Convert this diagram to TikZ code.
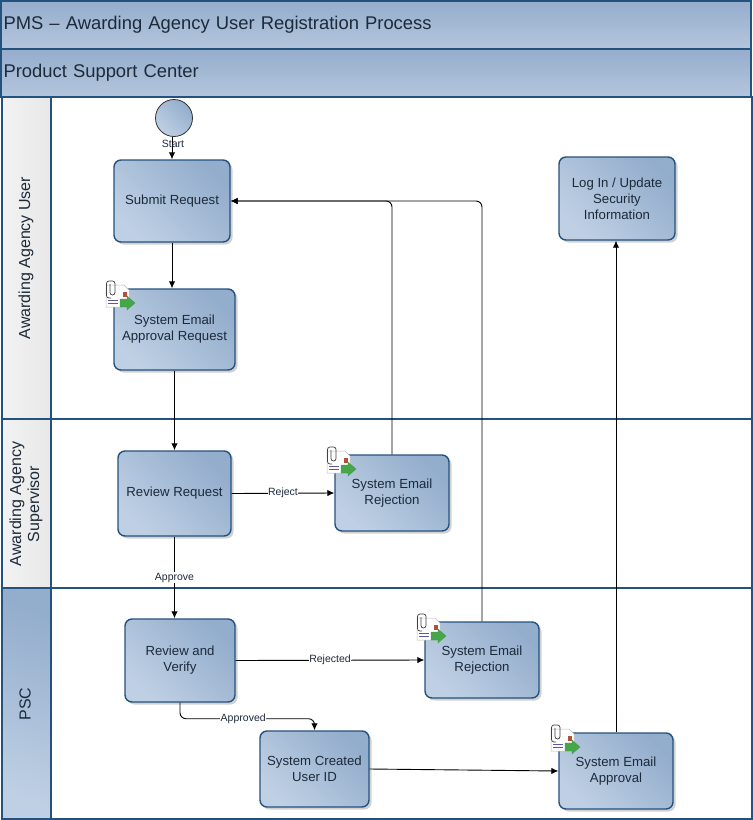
\documentclass[tikz,border=0pt]{standalone}
\usepackage{fontspec}
\setmainfont{Liberation Sans}
\usetikzlibrary{shadows,arrows.meta}
\definecolor{framecol}{HTML}{24527F}
\definecolor{boxlight}{HTML}{BFD0E4}
\definecolor{boxdark}{HTML}{93ADCC}
\definecolor{bandlight}{HTML}{B4C6DC}
\definecolor{banddark}{HTML}{94AECC}
\definecolor{inkcol}{HTML}{1C2A3A}
\definecolor{mailgreen}{HTML}{46A64A}
\definecolor{mailred}{HTML}{B4503A}

\begin{document}
\begin{tikzpicture}[
  x=1pt,y=-1pt,
  band/.style={draw=framecol,line width=1.6pt,outer sep=0pt,anchor=north west,top color=banddark,bottom color=bandlight,minimum height=48pt,text width=745pt,inner sep=2.5pt,align=left,font=\fontsize{18.4}{20}\selectfont,text=inkcol},
  lanebody/.style={draw=framecol,line width=1.6pt,outer sep=0pt,fill=white,anchor=north west,minimum width=701pt,inner sep=0pt},
  lanehead/.style={draw=framecol,line width=1.6pt,outer sep=0pt,anchor=north west,minimum width=49pt,inner sep=0pt,left color=white!90!gray,right color=white!82!gray},
  lanepsc/.style={lanehead,left color=boxlight,right color=boxdark,shading angle=160},
  lanetext/.style={rotate=90,align=center,font=\fontsize{16}{18}\selectfont,text=inkcol},
  procbox/.style={draw=framecol,line width=1.4pt,rounded corners=7pt,align=center,inner sep=0pt,font=\fontsize{13.2}{16}\selectfont,text=inkcol,drop shadow={shadow xshift=2.5pt,shadow yshift=-2.5pt,fill=gray!45,opacity=0.8},left color=boxlight,right color=boxdark,shading angle=135},
  startev/.style={circle,draw=black!80,line width=0.8pt,minimum size=37pt,inner sep=0pt,left color=boxlight,right color=boxdark,shading angle=135},
  flow/.style={draw=black,line width=0.9pt,-{Latex[length=7pt,width=6.5pt]}},
  flowbend/.style={flow,rounded corners=6pt},
  flowtext/.style={font=\fontsize{10.5}{12}\selectfont,text=inkcol,inner sep=0.5pt},
  mailicon/.pic={
    \fill[white,draw=gray!55,line width=0.5pt] (0,0) -- (18,0) -- (23,5) -- (23,22) -- (0,22) -- cycle;
    \fill[mailred] (17,7) rectangle (21,12);
    \draw[gray!70!blue,line width=0.6pt] (2,15) -- (12,15) (2,18) -- (12,18);
    \draw[gray!50!black,line width=0.7pt,rounded corners=2.5pt] (5,13) -- (0.5,13) -- (0.5,-4) -- (9,-4) -- (9,10) -- (4,10) -- (4,-1);
    \fill[mailgreen,draw=green!40!black!70,line width=0.3pt] (14,14) -- (21,14) -- (21,11) -- (29,18) -- (21,25) -- (21,22) -- (14,22) -- cycle;
  }
]
  \useasboundingbox (0,0) rectangle (753,820);
  \node[band] (title) at (1,1) {PMS -- Awarding Agency User Registration Process};
  \node[band] (center) at (1,49) {Product Support Center};

  \node[lanebody,minimum height=322pt] (lane1) at (51,97) {};
  \node[lanebody,minimum height=169pt] (lane2) at (51,419) {};
  \node[lanebody,minimum height=231pt] (lane3) at (51,588) {};
  \node[lanehead,minimum height=322pt] (head1) at (2,97) {};
  \node[lanehead,minimum height=169pt] (head2) at (2,419) {};
  \node[lanepsc,minimum height=231pt] (head3) at (2,588) {};
  \node[lanetext] (text1) at (26,258) {Awarding Agency User};
  \node[lanetext] (text2) at (26,504) {Awarding Agency\\Supervisor};
  \node[lanetext] (text3) at (25,704) {PSC};

  \node[startev] (start) at (174,118) {};
  \node[procbox,minimum width=116pt,minimum height=82pt] (submit) at (172,201) {Submit Request};
  \node[procbox,minimum width=121pt,minimum height=81pt] (notify) at (174.5,329.5) {System Email\\Approval Request};
  \node[procbox,minimum width=113pt,minimum height=85pt] (review) at (174.5,493.5) {Review Request};
  \node[procbox,minimum width=114pt,minimum height=76pt] (rejsup) at (392,493) {System Email\\Rejection};
  \node[procbox,minimum width=110pt,minimum height=83pt] (verify) at (180,660.5) {Review and\\Verify};
  \node[procbox,minimum width=114pt,minimum height=76pt] (rejpsc) at (482,660) {System Email\\Rejection};
  \node[procbox,minimum width=109pt,minimum height=76pt] (created) at (314.5,769) {System Created\\User ID};
  \node[procbox,minimum width=114pt,minimum height=76pt] (approval) at (616,771) {System Email\\Approval};
  \node[procbox,minimum width=116pt,minimum height=83pt] (login) at (617,198.5) {Log In / Update\\Security\\Information};

  \pic at (106,285) {mailicon};
  \pic at (327,451) {mailicon};
  \pic at (417,618) {mailicon};
  \pic at (551,729) {mailicon};

  \draw[flow] (start.south -| submit) -- (submit.north);
  \node[flowtext] (starttext) at (173,144) {Start};
  \draw[flow] (submit.south) -- (submit.south |- notify.north);
  \draw[flow] (notify.south) -- (review.north);
  \draw[flow] (review.east) -- node[flowtext,fill=white] (rejecttext) {Reject} (rejsup.west);
  \draw[flow] (review.south) -- node[flowtext,fill=white] (approvetext) {Approve} (review.south |- verify.north);
  \draw[flowbend] (rejsup.north) |- (submit.east);
  \draw[flowbend] (rejpsc.north) |- (submit.east);
  \draw[flow] (verify.east) -- node[flowtext,fill=white] (rejectedtext) {Rejected} (rejpsc.west);
  \draw[flowbend] (verify.south) -- ++(0,16) -| node[flowtext,fill=white,pos=0.235] (approvedtext) {Approved} (created.north);
  \draw[flow] (created.east) -- (approval.west);
  \draw[flow] (approval.north) -- (approval.north |- login.south);
\end{tikzpicture}
\end{document}
